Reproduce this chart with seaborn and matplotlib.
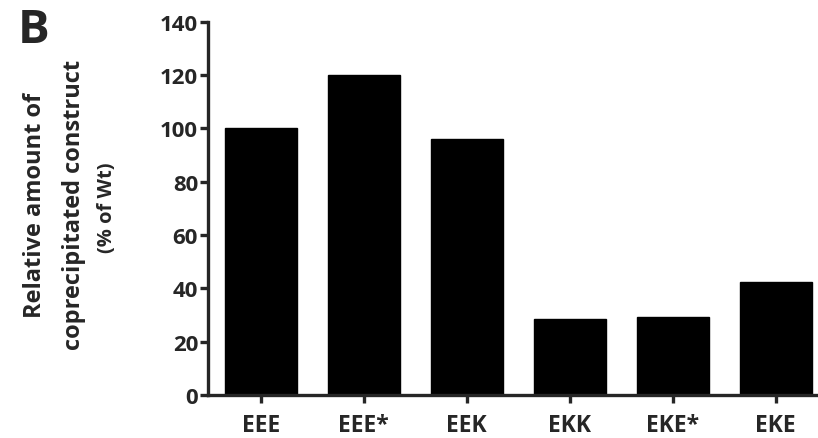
import matplotlib
matplotlib.use("Agg")
import matplotlib.pyplot as plt
import seaborn as sns
import pandas as pd

categories = ["EEE", "EEE*", "EEK", "EKK", "EKE*", "EKE"]
values = [100, 120, 96, 28.5, 29.4, 42.3]
yticks = [0, 20, 40, 60, 80, 100, 120, 140]

sns.set_style("ticks")
plt.rcParams['font.family'] = ['Open Sans', 'DejaVu Sans']
plt.rcParams['font.weight'] = 'bold'

df = pd.DataFrame({"construct": categories, "value": values})

fig = plt.figure(figsize=(8.18, 4.39), dpi=100)
ax = fig.add_axes([0.254, 0.098, 0.746, 0.85])
sns.barplot(data=df, x="construct", y="value", color="black", width=0.70,
            saturation=1, ax=ax, edgecolor="black")

ax.set_ylim(0, 140)
ax.set_yticks(yticks)
ax.set_xlim(-0.515, 5.41)
ax.set_xlabel("")
ax.set_ylabel("")
for s in ["top", "right"]:
    ax.spines[s].set_visible(False)
for s in ["left", "bottom"]:
    ax.spines[s].set_linewidth(2.4)
ax.tick_params(axis="y", width=2.4, length=6, labelsize=16, pad=1)
ax.tick_params(axis="x", width=2.4, length=6, labelsize=16.5, pad=7)
for lab in ax.get_xticklabels() + ax.get_yticklabels():
    lab.set_fontweight("bold")

fig.text(0.043, 0.533, "Relative amount of", rotation=90, ha="center", va="center",
         fontsize=17, fontweight="bold")
fig.text(0.090, 0.533, "coprecipitated construct", rotation=90, ha="center", va="center",
         fontsize=17, fontweight="bold")
fig.text(0.131, 0.527, "(% of Wt)", rotation=90, ha="center", va="center",
         fontsize=14.5, fontweight="bold")
fig.text(0.022, 0.985, "B", ha="left", va="top", fontsize=34, fontweight="bold")

fig.savefig("out.png", dpi=100)
